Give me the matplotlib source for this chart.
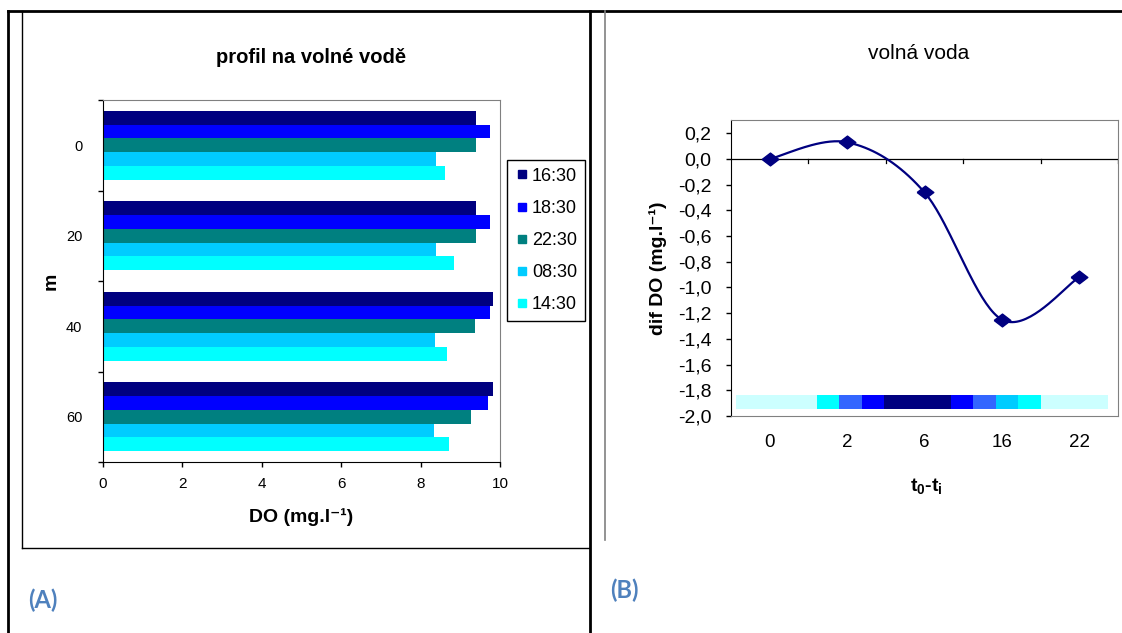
import numpy as np
import matplotlib
matplotlib.use("Agg")
import matplotlib.pyplot as plt
from matplotlib.lines import Line2D
from matplotlib.patches import Rectangle

plt.rcParams['font.family'] = ['Liberation Sans', 'DejaVu Sans']
plt.rcParams['mathtext.fontset'] = 'custom'
plt.rcParams['mathtext.rm'] = 'Liberation Sans'
plt.rcParams['mathtext.bf'] = 'Liberation Sans:bold'
plt.rcParams['mathtext.it'] = 'Liberation Sans:italic'

# ---------------- data ----------------
depths = ["0", "20", "40", "60"]
series_names = ["16:30", "18:30", "22:30", "08:30", "14:30"]
series_colors = ["#000080", "#0000FF", "#008080", "#00CCFF", "#00FFFF"]
do_1630 = [9.39, 9.39, 9.83, 9.83]
do_1830 = [9.76, 9.76, 9.76, 9.71]
do_2230 = [9.39, 9.39, 9.36, 9.26]
do_0830 = [8.38, 8.38, 8.36, 8.33]
do_1430 = [8.61, 8.83, 8.66, 8.71]

time_labels = ["0", "2", "6", "16", "22"]
dif_do = [0.0, 0.13, -0.26, -1.25, -0.92]

band_edges = [-0.435, 0.61, 0.895, 1.19, 1.48, 2.34, 2.63, 2.92, 3.21, 3.50, 4.37]
band_colors = ["#CCFFFF", "#00FFFF", "#3366FF", "#0000FF", "#000080",
               "#0000FF", "#3366FF", "#00CCFF", "#00FFFF", "#CCFFFF"]

W, H = 1122, 633
fig = plt.figure(figsize=(W / 100, H / 100), dpi=100)

def rect(x0, y0, x1, y1):
    return [x0 / W, 1 - y1 / H, (x1 - x0) / W, (y1 - y0) / H]

def fline(xs, ys, **kw):
    fig.add_artist(Line2D([x / W for x in xs], [1 - y / H for y in ys],
                          transform=fig.transFigure, **kw))

# frame lines (table)
fline([8, 8], [11, 633], color="black", lw=2)
fline([8, 1122], [11, 11], color="black", lw=2)
fline([590, 590], [11, 633], color="black", lw=2)
fline([22, 22], [11, 548], color="black", lw=1)
fline([22, 589], [548, 548], color="black", lw=1)
fline([605, 605], [11, 540], color="#808080", lw=1.2)

# ---------------- chart A ----------------
ax = fig.add_axes(rect(103, 100, 500, 462))
all_series = [do_1630, do_1830, do_2230, do_0830, do_1430]
n = len(all_series)
bh = 0.152
pos = np.arange(len(depths))
for j, (vals, col, name) in enumerate(zip(all_series, series_colors, series_names)):
    ax.barh(pos - bh * n / 2 + bh * (j + 0.5), vals, height=bh, color=col,
            label=name, linewidth=0)
ax.set_xlim(0, 10)
ax.set_ylim(len(depths) - 0.5, -0.5)
ax.set_xticks(np.arange(0, 11, 2))
ax.tick_params(axis='x', direction='out', length=3.5, width=1, labelsize=11,
               pad=7, colors='black')
ax.set_yticks(np.arange(len(depths) + 1) - 0.5)
ax.set_yticklabels([])
ax.set_yticks(pos, minor=True)
ax.set_yticklabels(depths, minor=True)
ax.tick_params(axis='y', which='major', direction='out', length=3.5, width=1)
ax.tick_params(axis='y', which='minor', length=0, labelsize=10.5, pad=15)
for s in ['top', 'right']:
    ax.spines[s].set_color('#808080')
for s in ['left', 'bottom']:
    ax.spines[s].set_color('black')
ax.set_xlabel("DO (mg.l⁻¹)", fontsize=14, fontweight='bold')
ax.xaxis.set_label_coords(0.5, -(508 - 462) / 362)
ax.set_ylabel("m", fontsize=14, fontweight='bold')
ax.yaxis.set_label_coords(-(103 - 60) / 397, 0.5)
fig.text(311 / W, 1 - 63.3 / H, "profil na volné vodě", ha='center', va='baseline',
         fontsize=14.5, fontweight='bold')

handles = [Line2D([], [], marker='s', color=c, linestyle='None', markersize=6)
           for c in series_colors]
leg = fig.legend(handles, series_names, loc='upper left',
                 bbox_to_anchor=(507 / W, 1 - 160 / H), bbox_transform=fig.transFigure,
                 frameon=True, fancybox=False, edgecolor='black', framealpha=1,
                 fontsize=13, labelspacing=0.84, handlelength=0.8, handletextpad=0.16,
                 borderpad=0.43, borderaxespad=0)
leg.get_frame().set_linewidth(1)

# ---------------- chart B ----------------
ax2 = fig.add_axes(rect(731, 120.4, 1118, 416))
xc = np.arange(len(time_labels))
yv = np.array(dif_do)

# Catmull-Rom smoothing (Excel-like smoothed line)
px = np.concatenate([[xc[0]], xc, [xc[-1]]]).astype(float)
py = np.concatenate([[yv[0]], yv, [yv[-1]]])
sx, sy = [], []
t = np.linspace(0, 1, 40)
for i in range(1, len(px) - 2):
    p0, p1, p2, p3 = [np.array([px[k], py[k]]) for k in (i - 1, i, i + 1, i + 2)]
    for tt in t:
        pt = 0.5 * ((2 * p1) + (-p0 + p2) * tt + (2 * p0 - 5 * p1 + 4 * p2 - p3) * tt ** 2
                    + (-p0 + 3 * p1 - 3 * p2 + p3) * tt ** 3)
        sx.append(pt[0]); sy.append(pt[1])

for k in range(len(band_colors)):
    ax2.add_patch(Rectangle((band_edges[k], -1.945), band_edges[k + 1] - band_edges[k],
                            0.108, facecolor=band_colors[k], edgecolor='none'))

ax2.axhline(0, color='black', lw=0.9)
ax2.plot(sx, sy, color='#000080', lw=1.6, zorder=3)
diamond = [(-1.3, 0), (0, 1), (1.3, 0), (0, -1), (-1.3, 0)]
ax2.plot(xc, yv, linestyle='None', marker=diamond, markersize=12, color='#000080', zorder=4)
for b in np.arange(len(time_labels)) + 0.5:
    ax2.plot([b, b], [0, -0.035], color='black', lw=0.9)

ax2.set_xlim(-0.5, len(time_labels) - 0.5)
ax2.set_ylim(-2.0, 0.3)
ax2.set_xticks(xc)
ax2.set_xticklabels(time_labels)
ax2.tick_params(axis='x', length=0, labelsize=13.5, pad=13)
yt = np.round(np.arange(-2.0, 0.21, 0.2), 1)
ax2.set_yticks(yt)
ax2.set_yticklabels([f"{v:.1f}".replace('.', ',').replace('-0,0', '0,0') for v in yt])
ax2.tick_params(axis='y', direction='out', length=3.5, width=1, labelsize=14, pad=10.5)
for s in ['top', 'right', 'bottom']:
    ax2.spines[s].set_color('#808080')
ax2.spines['left'].set_color('black')
ax2.set_ylabel("dif DO (mg.l⁻¹)", fontsize=14, fontweight='bold')
ax2.yaxis.set_label_coords(-(731 - 667) / 387, 0.5)
ax2.set_xlabel(r"t$_{\mathbf{0}}$-t$_{\mathbf{i}}$", fontsize=14, fontweight='bold')
ax2.xaxis.set_label_coords(0.505, -(476 - 416) / 295.6)
fig.text(919 / W, 1 - 59.3 / H, "volná voda", ha='center', va='baseline', fontsize=15)

# panel labels
fig.text(28 / W, 1 - 600 / H, "(A)", ha='left', va='center', fontsize=17,
         fontweight='bold', color='#4F81BD', family=['Lato', 'DejaVu Sans'])
fig.text(610 / W, 1 - 590 / H, "(B)", ha='left', va='center', fontsize=17,
         fontweight='bold', color='#4F81BD', family=['Lato', 'DejaVu Sans'])

fig.savefig("out.png", dpi=100)
